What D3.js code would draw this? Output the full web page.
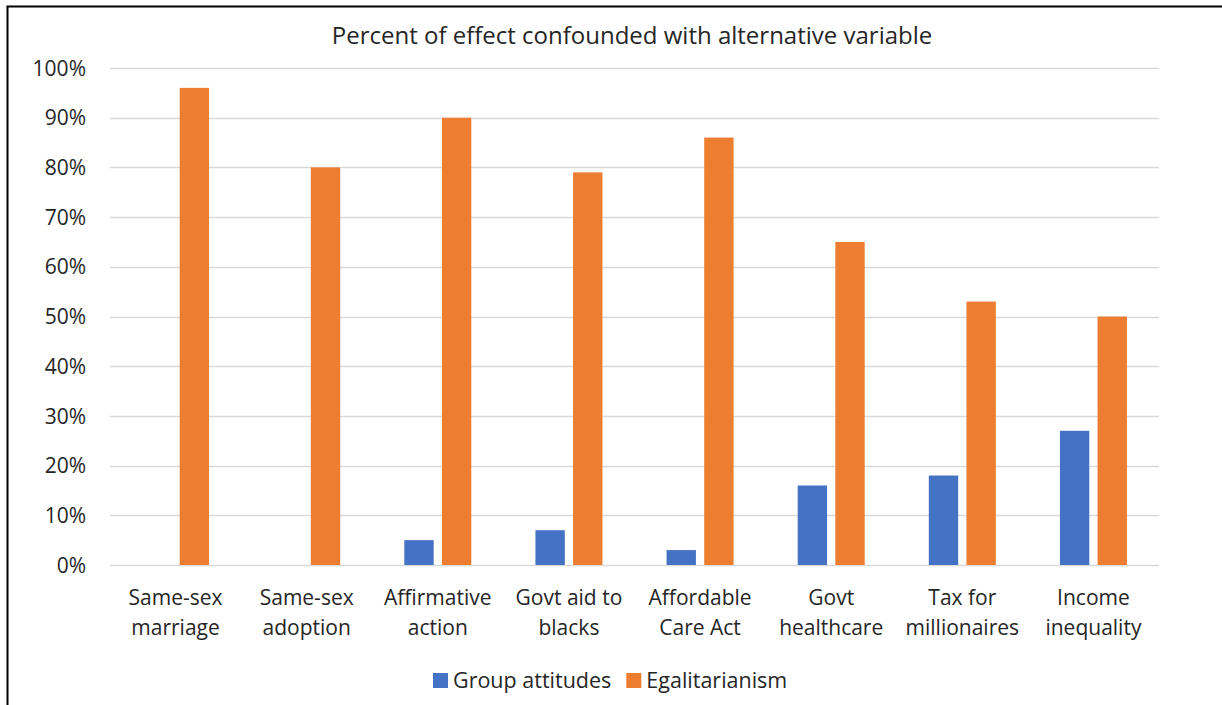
<!DOCTYPE html>
<html><head><meta charset="utf-8">
<script src="https://cdn.jsdelivr.net/npm/d3@7"></script>
<style>
html,body{margin:0;padding:0;background:#fff;}
svg{display:block;}
text{font-family:"Open Sans",Lato,sans-serif;fill:#262626;}
</style></head>
<body><svg id="c" width="1222" height="705"></svg>
<script>
const title = "Percent of effect confounded with alternative variable";
const categories = [["Same-sex","marriage"],["Same-sex","adoption"],["Affirmative","action"],["Govt aid to","blacks"],["Affordable","Care Act"],["Govt","healthcare"],["Tax for","millionaires"],["Income","inequality"]];
const seriesNames = ["Group attitudes","Egalitarianism"];
const groupAttitudes = [0,0,5,7,3,16,18,27];
const egalitarianism = [96,80,90,79,86,65,53,50];
const yTicks = [0,10,20,30,40,50,60,70,80,90,100];
const colors = ["#4472C4","#ED7D31"];

const svg = d3.select("#c");
// outer border
svg.append("path").attr("d","M7.5,705 L7.5,6.5 L1222,6.5").attr("fill","none").attr("stroke","#000").attr("stroke-width",2);

const pL=110,pR=1159,pT=68,pB=565;
const x0 = d3.scaleBand().domain(d3.range(categories.length)).range([pL,pR]).padding(0);
const y = d3.scaleLinear().domain([0,100]).range([pB,pT]);

// gridlines
svg.append("g").selectAll("line").data(yTicks).join("line")
  .attr("x1",pL).attr("x2",pR).attr("y1",d=>Math.round(y(d))+0.5).attr("y2",d=>Math.round(y(d))+0.5)
  .attr("stroke","#D9D9D9").attr("stroke-width",1.5);

// y labels
const yAxis = d3.axisLeft(y).tickValues(yTicks).tickFormat(d=>d+"%").tickSize(0).tickPadding(0);
const ya = svg.append("g").attr("transform","translate(86,0)").call(yAxis);
ya.select(".domain").remove();
ya.selectAll("text").style("font-size","21px").style("font-family","'Open Sans',sans-serif").attr("fill","#262626").attr("dy","0.34em");

// bars
const data = [groupAttitudes, egalitarianism];
const g = svg.append("g");
categories.forEach((c,i)=>{
  const cx = x0(i)+x0.bandwidth()/2;
  const x1 = d3.scaleBand().domain([0,1]).range([cx-33.5,cx+33.5]).paddingInner(0.22);
  [0,1].forEach(s=>{
    const v = data[s][i];
    if(v<=0) return;
    g.append("rect").attr("x",x1(s)).attr("width",x1.bandwidth())
      .attr("y",y(v)).attr("height",y(0)-y(v)).attr("fill",colors[s]);
  });
  const t = svg.append("text").attr("text-anchor","middle").style("font-size","21px");
  c.forEach((line,k)=>{
    t.append("tspan").attr("x",cx).attr("y",605+k*30).text(line);
  });
});

// title
svg.append("text").attr("x",632).attr("y",44).attr("text-anchor","middle").style("font-size","24px").text(title);

// legend
let lx = 433;
seriesNames.forEach((n,i)=>{
  svg.append("rect").attr("x",lx).attr("y",673).attr("width",15).attr("height",15).attr("fill",colors[i]);
  const t = svg.append("text").attr("x",lx+20).attr("y",688).style("font-size",  "21.5px").text(n);
  lx = lx + 20 + t.node().getComputedTextLength() + 15;
});
</script></body></html>
